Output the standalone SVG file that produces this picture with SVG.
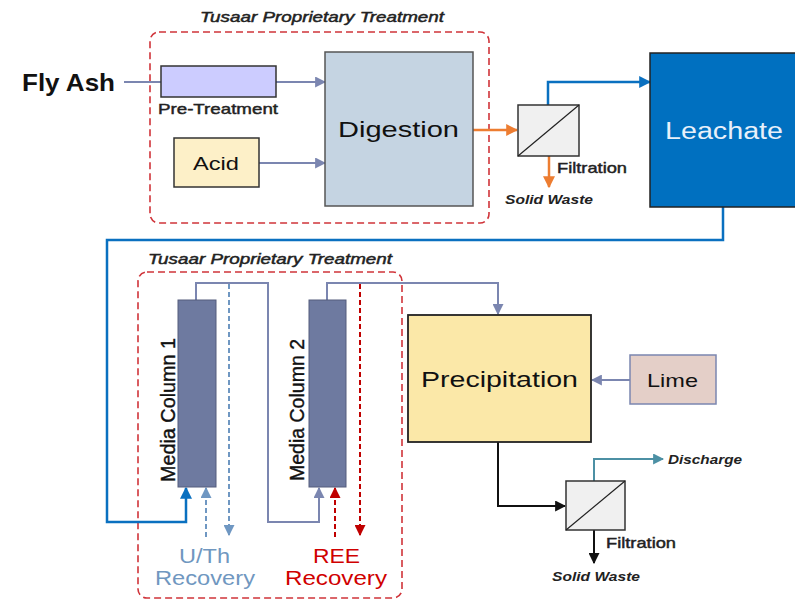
<svg xmlns="http://www.w3.org/2000/svg" width="795" height="601" viewBox="0 0 795 601">
<defs>
<style>
text{font-family:"Liberation Sans",Arial,sans-serif;fill:#111}
.title{font-size:14px;font-style:italic;fill:#222;stroke:#222;stroke-width:0.45}
.lbl{font-size:15px;fill:#222;stroke:#222;stroke-width:0.45}
.ital{font-size:13px;font-style:italic;font-weight:bold;fill:#222}
.big{font-size:22px}
.mid{font-size:19px}
.col{font-size:21px;fill:#111;stroke:#111;stroke-width:0.4}
.rec{font-size:20px}
.frame{fill:none;stroke:#d0343a;stroke-width:1.6;stroke-dasharray:7 4}
.box{stroke:#333;stroke-width:1.5}
.gb{fill:none;stroke:#7b86b0;stroke-width:2}
.blue{fill:none;stroke:#0a70c0;stroke-width:2.5}
.filt{fill:#f0f0f0;stroke:#333;stroke-width:1.5}
</style>
<marker id="aGb" viewBox="0 0 10 10" refX="9" refY="5" markerWidth="11" markerHeight="11" markerUnits="userSpaceOnUse" orient="auto"><path d="M0,0L10,5L0,10z" fill="#7b86b0"/></marker>
<marker id="aBlue" viewBox="0 0 10 10" refX="9" refY="5" markerWidth="12" markerHeight="12" markerUnits="userSpaceOnUse" orient="auto"><path d="M0,0L10,5L0,10z" fill="#0a70c0"/></marker>
<marker id="aOr" viewBox="0 0 10 10" refX="9" refY="5" markerWidth="12" markerHeight="12" markerUnits="userSpaceOnUse" orient="auto"><path d="M0,0L10,5L0,10z" fill="#ed7d31"/></marker>
<marker id="aBk" viewBox="0 0 10 10" refX="9" refY="5" markerWidth="11" markerHeight="11" markerUnits="userSpaceOnUse" orient="auto"><path d="M0,0L10,5L0,10z" fill="#111"/></marker>
<marker id="aTeal" viewBox="0 0 10 10" refX="9" refY="5" markerWidth="11" markerHeight="11" markerUnits="userSpaceOnUse" orient="auto"><path d="M0,0L10,5L0,10z" fill="#4c90a4"/></marker>
<marker id="aLb" viewBox="0 0 10 10" refX="9" refY="5" markerWidth="11" markerHeight="11" markerUnits="userSpaceOnUse" orient="auto"><path d="M0,0L10,5L0,10z" fill="#6f97c2"/></marker>
<marker id="aRed" viewBox="0 0 10 10" refX="9" refY="5" markerWidth="11" markerHeight="11" markerUnits="userSpaceOnUse" orient="auto"><path d="M0,0L10,5L0,10z" fill="#c00000"/></marker>
</defs>
<rect width="795" height="601" fill="#fff"/>

<g id="frames">
<rect class="frame" x="150" y="32" width="339" height="191" rx="9"/>
<text class="title" x="200" y="22" textLength="244" lengthAdjust="spacingAndGlyphs">Tusaar Proprietary  Treatment</text>
<rect class="frame" x="138" y="272" width="264" height="326" rx="9"/>
<text class="title" x="148" y="264" textLength="244" lengthAdjust="spacingAndGlyphs">Tusaar Proprietary  Treatment</text>
</g>

<g id="connectors">
<line class="gb" x1="124" y1="82" x2="161" y2="82"/>
<line class="gb" x1="276" y1="82" x2="325" y2="82" marker-end="url(#aGb)"/>
<line class="gb" x1="259" y1="163" x2="325" y2="163" marker-end="url(#aGb)"/>
<line x1="473" y1="130" x2="517" y2="130" stroke="#ed7d31" stroke-width="2.5" marker-end="url(#aOr)"/>
<line x1="549" y1="156" x2="549" y2="187" stroke="#ed7d31" stroke-width="2.5" marker-end="url(#aOr)"/>
<polyline class="blue" points="548,105 548,82 650,82" marker-end="url(#aBlue)"/>
<polyline class="blue" points="723,207 723,240 107,240 107,522 186,522 186,488" marker-end="url(#aBlue)"/>
<polyline class="gb" points="196,300 196,283 268,283 268,522 319,522 319,488" marker-end="url(#aGb)"/>
<polyline class="gb" points="327,300 327,283 498,283 498,314" marker-end="url(#aGb)"/>
<line x1="206" y1="537" x2="206" y2="488" stroke="#6f97c2" stroke-width="2" stroke-dasharray="5 3" marker-end="url(#aLb)"/>
<line x1="229" y1="284" x2="229" y2="535" stroke="#6f97c2" stroke-width="2" stroke-dasharray="5 3" marker-end="url(#aLb)"/>
<line x1="335" y1="537" x2="335" y2="488" stroke="#c00000" stroke-width="2" stroke-dasharray="5 3" marker-end="url(#aRed)"/>
<line x1="360" y1="284" x2="360" y2="535" stroke="#c00000" stroke-width="2" stroke-dasharray="5 3" marker-end="url(#aRed)"/>
<line class="gb" x1="630" y1="380" x2="592" y2="380" stroke-width="3" marker-end="url(#aGb)"/>
<polyline points="498,442 498,506 565,506" fill="none" stroke="#111" stroke-width="2" marker-end="url(#aBk)"/>
<polyline points="594,481 594,459 663,459" fill="none" stroke="#4c90a4" stroke-width="2" marker-end="url(#aTeal)"/>
<line x1="594" y1="530" x2="594" y2="563" stroke="#111" stroke-width="2" marker-end="url(#aBk)"/>
</g>

<g id="flyash"><text x="22" y="91" textLength="93" lengthAdjust="spacingAndGlyphs" style="font-size:24px;font-weight:bold" fill="#111">Fly Ash</text></g>

<g id="pretreatment">
<rect class="box" x="161" y="66" width="115" height="31" fill="#ccccff"/>
<text class="lbl" x="158" y="114" textLength="120" lengthAdjust="spacingAndGlyphs">Pre-Treatment</text>
</g>

<g id="acid">
<rect class="box" x="174" y="138" width="85" height="49" fill="#fdf0c8"/>
<text class="mid" x="193" y="170" textLength="46" lengthAdjust="spacingAndGlyphs">Acid</text>
</g>

<g id="digestion">
<rect x="325" y="52" width="148" height="154" fill="#c5d4e2" stroke="#555" stroke-width="1.5"/>
<text class="big" x="338" y="137" textLength="121" lengthAdjust="spacingAndGlyphs">Digestion</text>
</g>

<g id="filtration1">
<rect class="filt" x="518" y="105" width="61" height="51"/>
<line x1="518" y1="156" x2="579" y2="105" stroke="#222" stroke-width="1.2"/>
<text class="lbl" x="557" y="173" textLength="70" lengthAdjust="spacingAndGlyphs">Filtration</text>
<text class="ital" x="505" y="204" textLength="88" lengthAdjust="spacingAndGlyphs">Solid Waste</text>
</g>

<g id="leachate">
<rect x="650" y="53" width="152" height="154" fill="#0070c0" stroke="#222" stroke-width="1.5"/>
<text x="665" y="139" textLength="118" lengthAdjust="spacingAndGlyphs" style="font-size:23px;fill:#e8f0fa">Leachate</text>
</g>

<g id="column1">
<rect x="178" y="300" width="38" height="187" fill="#6e7aa0" stroke="#555c7c" stroke-width="1"/>
<text class="col" transform="translate(175,410) rotate(-90)" text-anchor="middle" textLength="144" lengthAdjust="spacingAndGlyphs">Media Column 1</text>
</g>

<g id="column2">
<rect x="309" y="300" width="37" height="187" fill="#6e7aa0" stroke="#555c7c" stroke-width="1"/>
<text class="col" transform="translate(304,410) rotate(-90)" text-anchor="middle" textLength="142" lengthAdjust="spacingAndGlyphs">Media Column 2</text>
</g>

<g id="uth">
<text class="rec" x="179" y="563" textLength="51" lengthAdjust="spacingAndGlyphs" style="fill:#7097c0">U/Th</text>
<text class="rec" x="155" y="585" textLength="100" lengthAdjust="spacingAndGlyphs" style="fill:#7097c0">Recovery</text>
</g>

<g id="ree">
<text class="rec" x="313" y="563" textLength="47" lengthAdjust="spacingAndGlyphs" style="fill:#d00000">REE</text>
<text class="rec" x="285" y="585" textLength="102" lengthAdjust="spacingAndGlyphs" style="fill:#d00000">Recovery</text>
</g>

<g id="precipitation">
<rect x="408" y="315" width="183" height="127" fill="#fbe8a8" stroke="#222" stroke-width="1.8"/>
<text class="big" x="421" y="387" textLength="157" lengthAdjust="spacingAndGlyphs">Precipitation</text>
</g>

<g id="lime">
<rect x="630" y="355" width="86" height="49" fill="#e4cfc8" stroke="#7b86b0" stroke-width="1.5"/>
<text class="mid" x="647" y="387" textLength="51" lengthAdjust="spacingAndGlyphs">Lime</text>
</g>

<g id="filtration2">
<rect class="filt" x="566" y="481" width="59" height="49"/>
<line x1="566" y1="530" x2="625" y2="481" stroke="#222" stroke-width="1.2"/>
<text class="lbl" x="606" y="548" textLength="70" lengthAdjust="spacingAndGlyphs">Filtration</text>
<text class="ital" x="552" y="581" textLength="88" lengthAdjust="spacingAndGlyphs">Solid Waste</text>
<text class="ital" x="668" y="464" textLength="74" lengthAdjust="spacingAndGlyphs">Discharge</text>
</g>
</svg>
